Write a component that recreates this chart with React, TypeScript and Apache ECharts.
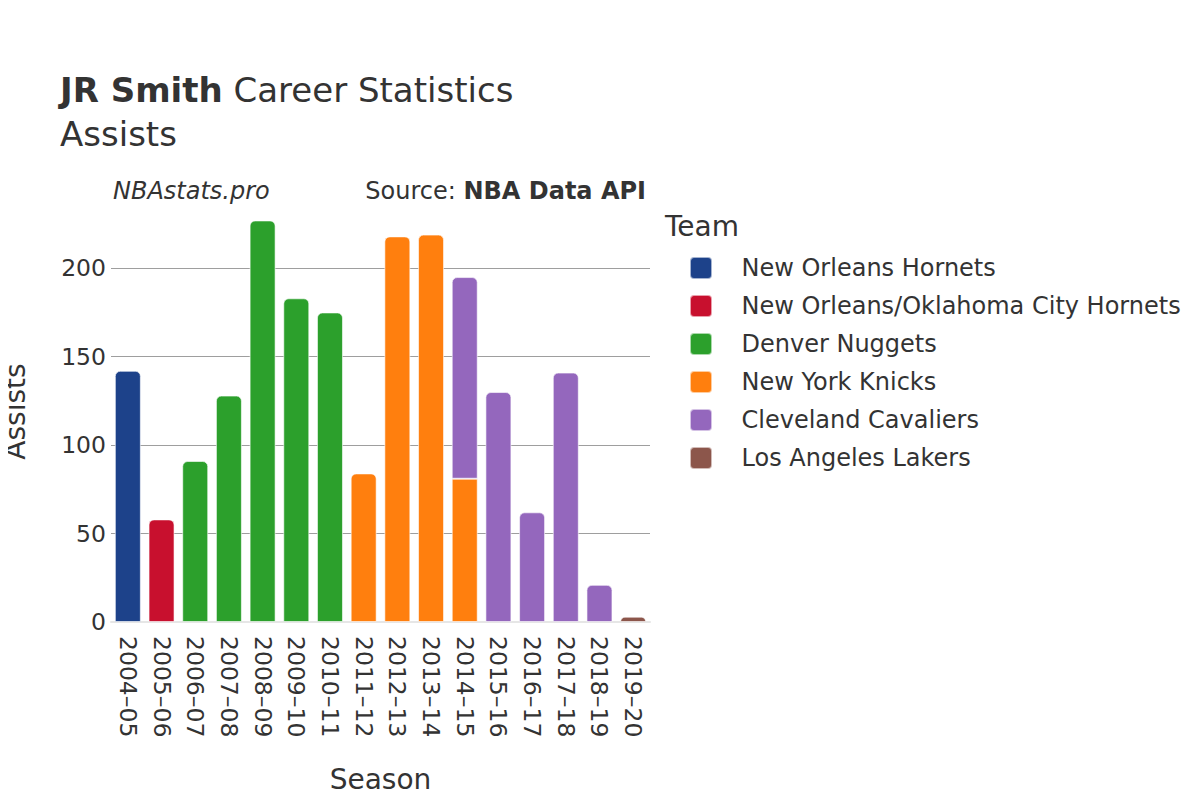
import React, { useEffect, useRef } from "react";
import * as echarts from "echarts";

const seasons = ["2004–05","2005–06","2006–07","2007–08","2008–09","2009–10","2010–11","2011–12","2012–13","2013–14","2014–15","2015–16","2016–17","2017–18","2018–19","2019–20"];
const teams = ["New Orleans Hornets","New Orleans/Oklahoma City Hornets","Denver Nuggets","New York Knicks","Cleveland Cavaliers","Los Angeles Lakers"];
const colors = ["#1d428a","#c8102e","#2ca02c","#ff7f0e","#9467bd","#8c564b"];
const hornets = [142,null,null,null,null,null,null,null,null,null,null,null,null,null,null,null];
const nokHornets = [null,58,null,null,null,null,null,null,null,null,null,null,null,null,null,null];
const nuggets = [null,null,91,128,227,183,175,null,null,null,null,null,null,null,null,null];
const knicks = [null,null,null,null,null,null,null,84,218,219,81,null,null,null,null,null];
const cavaliers = [null,null,null,null,null,null,null,null,null,null,114,130,62,141,21,null];
const lakers = [null,null,null,null,null,null,null,null,null,null,null,null,null,null,null,3];
const teamValues = [hornets, nokHornets, nuggets, knicks, cavaliers, lakers];
const yTicks = [0, 50, 100, 150, 200];

const FONT = "DejaVu Sans";
const C = "#333";
const ICON = "path://M4,0 H18 A4,4 0 0 1 22,4 V18 A4,4 0 0 1 18,22 H4 A4,4 0 0 1 0,18 V4 A4,4 0 0 1 4,0 Z";

export default function App() {
  const ref = useRef<HTMLDivElement>(null);
  useEffect(() => {
    if (!ref.current) return;
    const chart = echarts.init(ref.current, null, { renderer: "svg" });
    const series = teams.map((name, ti) => ({
      name,
      type: "bar",
      stack: "total",
      barWidth: 26,
      data: teamValues[ti].map((v, i) => {
        if (v == null) return null;
        const isTop = !teamValues.slice(ti + 1).some((arr) => arr[i] != null);
        return {
          value: v,
          itemStyle: { borderRadius: isTop ? [5, 5, 0, 0] : 0 },
        };
      }),
      itemStyle: { color: colors[ti], borderColor: "rgba(255,255,255,0.6)", borderWidth: 1 },
    }));
    chart.setOption({
      animation: false,
      backgroundColor: "#fff",
      textStyle: { fontFamily: FONT },
      graphic: [
        {
          type: "text",
          left: 60,
          top: 73,
          style: {
            text: "{b|JR Smith} Career Statistics",
            font: `34px '${FONT}'`,
            fill: C,
            rich: { b: { fontFamily: FONT, fontSize: 34, fontWeight: "bold", fill: C } },
          },
        },
        {
          type: "text",
          left: 60,
          top: 117,
          style: { text: "Assists", fontFamily: FONT, fontSize: 34, fill: C },
        },
        {
          type: "text",
          left: 113,
          top: 179,
          style: { text: "NBAstats.pro", fontFamily: FONT, fontSize: 24, fontStyle: "italic", fill: C },
        },
        {
          type: "text",
          right: 554,
          top: 179,
          style: {
            text: "Source: {b|NBA Data API}",
            fontFamily: FONT,
            fontSize: 24,
            fill: C,
            rich: { b: { fontFamily: FONT, fontSize: 24, fontWeight: "bold", fill: C } },
          },
        },
        {
          type: "text",
          left: 665,
          top: 212,
          style: { text: "Team", fontFamily: FONT, fontSize: 28, fill: C },
        },
      ],
      legend: {
        orient: "vertical",
        left: 689,
        top: 256,
        padding: 0,
        itemWidth: 23,
        itemHeight: 22,
        itemGap: 14,
        icon: ICON,
        data: teams,
        selectedMode: false,
        textStyle: { fontFamily: FONT, fontSize: 24, lineHeight: 22, color: C, padding: [0, 0, 0, 24] },
      },
      grid: { left: 108, top: 201, width: 542, height: 421, containLabel: false },
      xAxis: {
        type: "category",
        data: seasons,
        name: "Season",
        nameLocation: "middle",
        nameGap: 143,
        nameTextStyle: { fontFamily: FONT, fontSize: 28, color: C },
        axisLine: { show: true, lineStyle: { color: "#e6e6e6", width: 2 } },
        axisTick: { show: false },
        axisLabel: { rotate: -90, fontFamily: FONT, fontSize: 23.5, color: C, margin: 14, interval: 0 },
      },
      yAxis: {
        type: "value",
        min: 0,
        max: 238,
        interval: 50,
        name: "Assists",
        nameLocation: "middle",
        nameGap: 82,
        nameTextStyle: { fontFamily: FONT, fontSize: 28, color: C },
        axisLine: { show: false },
        axisTick: { show: false },
        splitLine: { showMaxLine: false, lineStyle: { color: "#9e9e9e", width: 1 } },
        axisLabel: {
          fontFamily: FONT,
          fontSize: 23.5,
          color: C,
          margin: 5,
          showMaxLabel: false,
          formatter: (v: number) => (yTicks.includes(v) ? String(v) : ""),
        },
      },
      series,
    });
    return () => chart.dispose();
  }, []);
  return <div ref={ref} style={{ width: 1200, height: 800, margin: -8 }} />;
}
